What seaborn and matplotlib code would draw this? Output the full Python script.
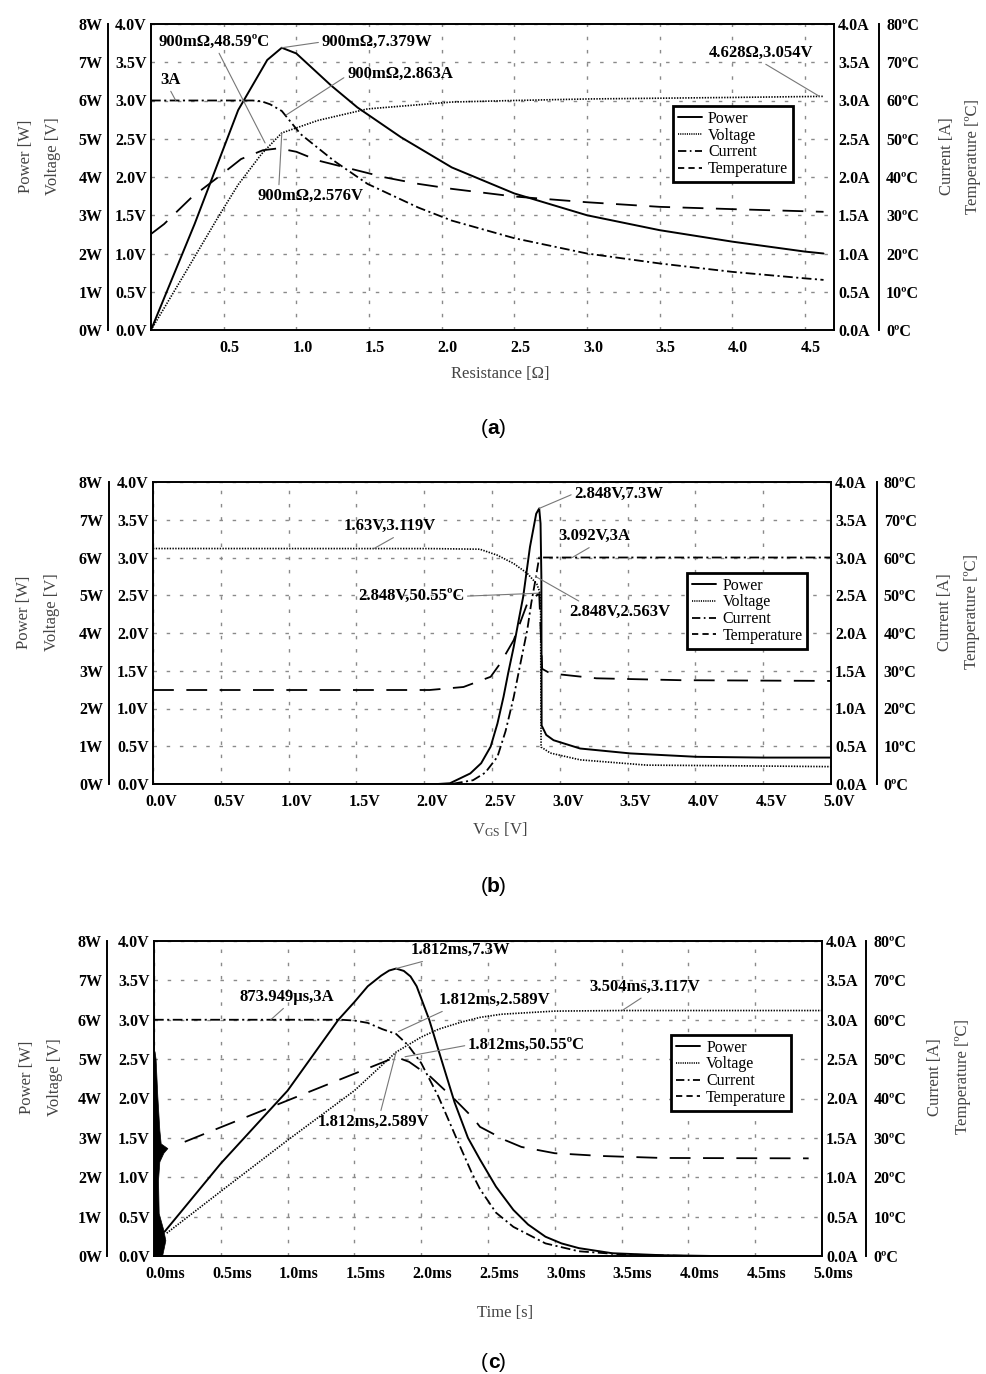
import numpy as np
import seaborn as sns
import matplotlib.pyplot as plt
import matplotlib.transforms as mtransforms
from matplotlib.lines import Line2D

sns.set_style('white')
plt.rcParams['font.family'] = ['Liberation Serif', 'DejaVu Serif']
plt.rcParams['lines.scale_dashes'] = False
for k in ['text.color', 'axes.labelcolor', 'xtick.color', 'ytick.color', 'axes.edgecolor']:
    plt.rcParams[k] = 'black'

# ---------------- (a) load resistance sweep ----------------
a_res_pow = [0, 0.3, 0.6, 0.8, 0.9, 1.0, 1.24, 1.42, 1.72, 2.07, 2.5, 3.0, 3.5, 4.0, 4.5, 4.628]
a_pow = [0, 2.77, 5.75, 7.06, 7.379, 7.23, 6.39, 5.82, 5.04, 4.25, 3.57, 3.0, 2.61, 2.31, 2.05, 2.0]
a_res_volt = [0, 0.23, 0.46, 0.6, 0.76, 0.9, 1.15, 1.49, 2.07, 2.5, 3.0, 4.0, 4.628]
a_volt = [0, 0.73, 1.47, 1.9, 2.30, 2.576, 2.74, 2.89, 2.98, 3.0, 3.02, 3.04, 3.054]
a_res_cur = [0, 0.7, 0.76, 0.82, 0.9, 1.03, 1.26, 1.49, 1.84, 2.07, 2.5, 3.0, 3.5, 4.0, 4.5, 4.628]
a_cur = [3.0, 3.0, 2.99, 2.95, 2.863, 2.56, 2.21, 1.91, 1.60, 1.43, 1.2, 1.0, 0.87, 0.76, 0.675, 0.655]
a_res_temp = [0, 0.09, 0.28, 0.46, 0.62, 0.77, 0.88, 1.0, 1.15, 1.38, 1.61, 1.84, 2.07, 2.5, 3.0, 3.5, 4.0, 4.628]
a_temp = [25.1, 27.7, 34.7, 39.9, 44.7, 47.0, 47.5, 46.6, 44.3, 42.1, 39.9, 38.2, 36.9, 34.9, 33.4, 32.2, 31.6, 30.9]
a_xticks = [0.5, 1.0, 1.5, 2.0, 2.5, 3.0, 3.5, 4.0, 4.5]

# ---------------- (b) gate voltage sweep ----------------
b_vgs_pow = [0, 2.1, 2.19, 2.34, 2.42, 2.49, 2.54, 2.585, 2.62, 2.66, 2.70, 2.73, 2.78, 2.826, 2.848,
             2.858, 2.864, 2.866, 2.90, 2.954, 3.15, 3.52, 4.01, 4.5, 5.0]
b_pow = [0, 0, 0.02, 0.28, 0.55, 0.99, 1.6, 2.31, 2.95, 3.63, 4.4, 4.96, 6.28, 7.16, 7.3,
         6.9, 5.5, 1.55, 1.3, 1.16, 0.94, 0.81, 0.72, 0.70, 0.70]
b_vgs_volt = [0, 2.04, 2.41, 2.54, 2.66, 2.76, 2.83, 2.848, 2.858, 2.862, 2.93, 3.15, 3.64, 4.38, 5.0]
b_volt = [3.119, 3.118, 3.11, 3.03, 2.92, 2.79, 2.65, 2.563, 2.5, 0.49, 0.41, 0.32, 0.25, 0.24, 0.23]
b_vgs_cur = [0, 2.2, 2.36, 2.45, 2.54, 2.6, 2.66, 2.71, 2.76, 2.79, 2.82, 2.848, 5.0]
b_cur = [0, 0, 0.05, 0.15, 0.36, 0.7, 1.15, 1.6, 2.04, 2.4, 2.7, 3.0, 3.0]
b_vgs_temp = [0, 2.04, 2.29, 2.49, 2.56, 2.66, 2.76, 2.848, 2.87, 2.93, 3.27, 3.89, 5.0]
b_temp = [24.9, 24.9, 25.7, 28.4, 31.9, 38.1, 47.8, 50.55, 30.5, 29.3, 28.0, 27.5, 27.3]
b_xticks = [0, 0.5, 1.0, 1.5, 2.0, 2.5, 3.0, 3.5, 4.0, 4.5, 5.0]

# ---------------- (c) time response ----------------
c_t_pow = [0.08, 0.5, 1.0, 1.38, 1.5, 1.6, 1.7, 1.76, 1.812, 1.87, 1.92, 1.966, 2.06, 2.15, 2.25, 2.35, 2.44,
           2.56, 2.69, 2.8, 2.93, 3.05, 3.18, 3.43, 3.8, 4.18, 5.0]
c_pow = [0.62, 2.35, 4.2, 6.0, 6.45, 6.85, 7.12, 7.25, 7.3, 7.24, 7.1, 6.85, 6.0, 5.0, 3.9, 3.0, 2.45,
         1.76, 1.17, 0.8, 0.49, 0.32, 0.2, 0.07, 0.02, 0.0, 0.0]
c_t_volt = [0.095, 0.53, 1.0, 1.5, 1.812, 2.0, 2.13, 2.3, 2.44, 2.6, 3.0, 3.504, 5.0]
c_volt = [0.29, 0.86, 1.47, 2.1, 2.589, 2.78, 2.88, 2.97, 3.03, 3.07, 3.11, 3.117, 3.117]
c_t_cur = [0, 1.4, 1.5, 1.6, 1.71, 1.812, 1.9, 2.0, 2.13, 2.26, 2.38, 2.44, 2.56, 2.69, 2.93, 3.18, 3.5, 4.0, 5.0]
c_cur = [3.0, 3.0, 2.99, 2.96, 2.88, 2.82, 2.68, 2.45, 2.02, 1.51, 1.05, 0.85, 0.55, 0.37, 0.16, 0.06, 0.02, 0.0, 0.0]
c_t_temp = [0.23, 0.5, 1.0, 1.5, 1.812, 1.91, 2.07, 2.25, 2.39, 2.44, 2.63, 2.75, 3.0, 3.35, 3.8, 4.9]
c_temp = [29.0, 32.7, 39.5, 46.3, 50.55, 49.3, 45.5, 39.8, 35.0, 32.8, 29.4, 27.7, 26.1, 25.4, 24.9, 24.8]
# start-up ringing of the power trace (envelope)
c_blob_pow = [0, 0.4, 0.66, 1.09, 1.93, 2.4, 2.62, 2.74, 2.86, 3.2, 4.05, 5.0, 5.2]
c_blob_t = [0.06, 0.085, 0.07, 0.035, 0.03, 0.04, 0.07, 0.1, 0.05, 0.04, 0.025, 0.012, 0.004]
c_xticks = [0, 0.5, 1.0, 1.5, 2.0, 2.5, 3.0, 3.5, 4.0, 4.5, 5.0]

volt_ticks = [0, 0.5, 1.0, 1.5, 2.0, 2.5, 3.0, 3.5, 4.0]
pow_ticks = [0, 1, 2, 3, 4, 5, 6, 7, 8]
cur_ticks = [0, 0.5, 1.0, 1.5, 2.0, 2.5, 3.0, 3.5, 4.0]
temp_ticks = [0, 10, 20, 30, 40, 50, 60, 70, 80]

LS_POW = '-'
LS_VOLT = (0, (1.0, 1.0))
LS_CUR = (0, (7, 2.5, 1.5, 2.5))
LS_TEMP = (0, (15, 9))

W, H = 987, 1374
fig = plt.figure(figsize=(9.87, 13.74), dpi=100)


def make_axes(box):
    l, t, r, b = box
    ax_v = fig.add_axes([l / W, 1 - b / H, (r - l) / W, (b - t) / H])
    ax_p = ax_v.twinx()
    ax_i = ax_v.twinx()
    ax_t = ax_v.twinx()
    return ax_v, ax_p, ax_i, ax_t


def curve(ax, x, y, ls, lw=1.3):
    sns.lineplot(x=x, y=y, ax=ax, color='black', linewidth=lw, linestyle=ls,
                 estimator=None, sort=False, legend=False)


def finish(axes, xlim, xticks, xlabels, xshift, p_off, t_off, leg_xy):
    ax_v, ax_p, ax_i, ax_t = axes
    # spines first: moving a spine resets the ticks
    for s in ax_v.spines.values():
        s.set_visible(True)
        s.set_color('black')
        s.set_linewidth(1.4)
    for a in (ax_p, ax_i, ax_t):
        for s in a.spines.values():
            s.set_visible(False)
    ax_p.spines['left'].set_visible(True)
    ax_p.spines['left'].set_position(('outward', p_off))
    ax_p.spines['left'].set_linewidth(1.4)
    ax_t.spines['right'].set_visible(True)
    ax_t.spines['right'].set_position(('outward', t_off))
    ax_t.spines['right'].set_linewidth(1.4)
    ax_p.yaxis.tick_left()

    ax_v.set_xlim(*xlim)
    ax_v.set_ylim(0, 4)
    ax_p.set_ylim(0, 8)
    ax_i.set_ylim(0, 4)
    ax_t.set_ylim(0, 80)
    for a in (ax_v, ax_p, ax_i, ax_t):
        a.set_xlabel('')
        a.set_ylabel('')
    ax_v.tick_params(axis='x', length=0, pad=7)
    ax_v.tick_params(axis='y', length=0, pad=3)
    ax_p.tick_params(axis='y', length=0, pad=4, left=True, right=False, labelleft=True, labelright=False)
    ax_i.tick_params(axis='y', length=0, pad=3)
    ax_t.tick_params(axis='y', length=0, pad=5)
    bold = dict(fontweight='bold', fontsize=11.5)
    ax_v.set_xticks(xticks, xlabels, **bold)
    ax_v.set_yticks(volt_ticks, [f'{v:.1f}V' for v in volt_ticks], **bold)
    ax_p.set_yticks(pow_ticks, [f'{v}W' for v in pow_ticks], **bold)
    ax_i.set_yticks(cur_ticks, [f'{v:.1f}A' for v in cur_ticks], **bold)
    ax_t.set_yticks(temp_ticks, [f'{v}ºC' for v in temp_ticks], **bold)

    ax_v.set_axisbelow(True)
    ax_v.grid(True, color='#8a8a8a', linestyle=(0, (2.5, 7)), linewidth=1.0)
    shift = mtransforms.ScaledTranslation(xshift / 100, 0, fig.dpi_scale_trans)
    for lab in ax_v.get_xticklabels():
        lab.set_transform(lab.get_transform() + shift)
    handles = [Line2D([], [], color='black', lw=1.4, linestyle='-'),
               Line2D([], [], color='black', lw=1.2, linestyle=(0, (0.8, 0.8))),
               Line2D([], [], color='black', lw=1.3, linestyle=(0, (6, 2.5, 1.2, 2.5))),
               Line2D([], [], color='black', lw=1.3, linestyle=(0, (4.5, 3)))]
    leg = ax_t.legend(handles, ['Power', 'Voltage', 'Current', 'Temperature'],
                      loc='upper left', bbox_to_anchor=leg_xy, frameon=True, fancybox=False,
                      edgecolor='black', framealpha=1, borderpad=0.3, labelspacing=0.05,
                      handlelength=1.5, handletextpad=0.4, borderaxespad=0, fontsize=11.5)
    leg.get_frame().set_linewidth(2.0)


def note(axes, text, xy, target, txt, relpos):
    ax_v = axes[0]
    axes[3].annotate(text, xy=xy, xycoords=target.transData, xytext=txt,
                     textcoords=ax_v.transData, ha='center', va='center',
                     fontsize=12, fontweight='bold', annotation_clip=False,
                     arrowprops=dict(arrowstyle='-', color='#777777', lw=0.8,
                                     shrinkA=0, shrinkB=0, relpos=relpos))


def labels(xlab, xpos, ypw, yv, yi, yt, yrow, panel, panel_y):
    gray = '#444444'
    fig.text(xpos[0] / W, 1 - xpos[1] / H, xlab, ha='center', va='center', fontsize=12, color=gray)
    fig.text(ypw / W, 1 - yrow / H, 'Power [W]', rotation=90, ha='center', va='center', fontsize=12, color=gray)
    fig.text(yv / W, 1 - yrow / H, 'Voltage [V]', rotation=90, ha='center', va='center', fontsize=12, color=gray)
    fig.text(yi / W, 1 - yrow / H, 'Current [A]', rotation=90, ha='center', va='center', fontsize=12, color=gray)
    fig.text(yt / W, 1 - yrow / H, 'Temperature [ºC]', rotation=90, ha='center', va='center', fontsize=12, color=gray)
    py = 1 - panel_y / H
    narrow = ['Liberation Sans Narrow', 'Liberation Sans']
    fig.text(488 / W, py, '(', ha='right', va='center', fontsize=15, family=narrow)
    fig.text(493.5 / W, py, panel, ha='center', va='center', fontsize=15, family=narrow, fontweight='bold')
    fig.text(499 / W, py, ')', ha='left', va='center', fontsize=15, family=narrow)


# ---------------- panel (a) ----------------
ax_a = make_axes((151, 24, 834, 330))
curve(ax_a[1], a_res_pow, a_pow, LS_POW, 1.4)
curve(ax_a[0], a_res_volt, a_volt, LS_VOLT, 1.2)
curve(ax_a[2], a_res_cur, a_cur, LS_CUR)
curve(ax_a[3], a_res_temp, a_temp, LS_TEMP)
finish(ax_a, (0, 4.7), a_xticks, [f'{v:.1f}' for v in a_xticks], 6, 31, 32.5, (0.764, 0.732))
note(ax_a, '900mΩ,48.59ºC', (0.785, 48.9), ax_a[3], (0.434, 3.765), (0.53, 0))
note(ax_a, '900mΩ,7.379W', (0.9, 7.379), ax_a[1], (1.555, 3.765), (0, 0.5))
note(ax_a, '900mΩ,2.863A', (0.93, 2.81), ax_a[2], (1.714, 3.346), (0, 0.4))
note(ax_a, '900mΩ,2.576V', (0.9, 2.576), ax_a[0], (1.098, 1.752), (0.2, 1))
note(ax_a, '3A', (0.17, 3.0), ax_a[2], (0.131, 3.268), (0.45, 0))
note(ax_a, '4.628Ω,3.054V', (4.6, 3.054), ax_a[0], (4.20, 3.621), (0.49, 0))
labels('Resistance [Ω]', (500, 374), 26, 53, 947, 973, 156, 'a', 429)

# ---------------- panel (b) ----------------
ax_b = make_axes((153, 482, 831, 784))
curve(ax_b[1], b_vgs_pow, b_pow, LS_POW, 1.4)
curve(ax_b[0], b_vgs_volt, b_volt, LS_VOLT, 1.2)
curve(ax_b[2], b_vgs_cur, b_cur, LS_CUR)
curve(ax_b[3], b_vgs_temp, b_temp, LS_TEMP)
finish(ax_b, (0, 5.0), b_xticks, [f'{v:.1f}V' for v in b_xticks], 8, 32, 33, (0.788, 0.699))
note(ax_b, '2.848V,7.3W', (2.848, 7.3), ax_b[1], (3.436, 3.849), (0, 0.5))
note(ax_b, '1.63V,3.119V', (1.63, 3.119), ax_b[0], (1.748, 3.413), (0.6, 0))
note(ax_b, '3.092V,3A', (3.092, 3.0), ax_b[2], (3.258, 3.28), (0.5, 0))
note(ax_b, '2.848V,50.55ºC', (2.848, 50.55), ax_b[3], (1.903, 2.487), (1, 0.5))
note(ax_b, '2.848V,2.563V', (2.82, 2.75), ax_b[0], (3.443, 2.275), (0.15, 1))
labels(r'$\mathregular{V_{GS}}$ [V]', (500, 830), 24, 52, 945, 972, 612, 'b', 886)

# ---------------- panel (c) ----------------
ax_c = make_axes((154, 941, 822, 1256))
ax_c[1].fill_betweenx(c_blob_pow, 0, c_blob_t, color='black', linewidth=0.5)
curve(ax_c[1], c_t_pow, c_pow, LS_POW, 1.4)
curve(ax_c[0], c_t_volt, c_volt, LS_VOLT, 1.2)
curve(ax_c[2], c_t_cur, c_cur, LS_CUR)
curve(ax_c[3], c_t_temp, c_temp, LS_TEMP)
finish(ax_c, (0, 5.0), c_xticks, [f'{v:.1f}ms' for v in c_xticks], 11, 33.5, 32, (0.774, 0.702))
note(ax_c, '1.812ms,7.3W', (1.812, 7.3), ax_c[1], (2.294, 3.883), (0.36, 0.2))
note(ax_c, '873.949µs,3A', (0.874, 3.0), ax_c[2], (0.996, 3.287), (0.5, 0))
note(ax_c, '1.812ms,2.589V', (1.83, 2.85), ax_c[2], (2.545, 3.249), (0.1, 0))
note(ax_c, '1.812ms,50.55ºC', (1.879, 50.6), ax_c[3], (2.788, 2.678), (0, 0.5))
note(ax_c, '1.812ms,2.589V', (1.812, 2.589), ax_c[0], (1.642, 1.705), (0.56, 1))
note(ax_c, '3.504ms,3.117V', (3.504, 3.117), ax_c[0], (3.675, 3.418), (0.51, 0))
labels('Time [s]', (505, 1313), 27, 55, 935, 963, 1077, 'c', 1362)

fig.savefig('out.png', dpi=100)
